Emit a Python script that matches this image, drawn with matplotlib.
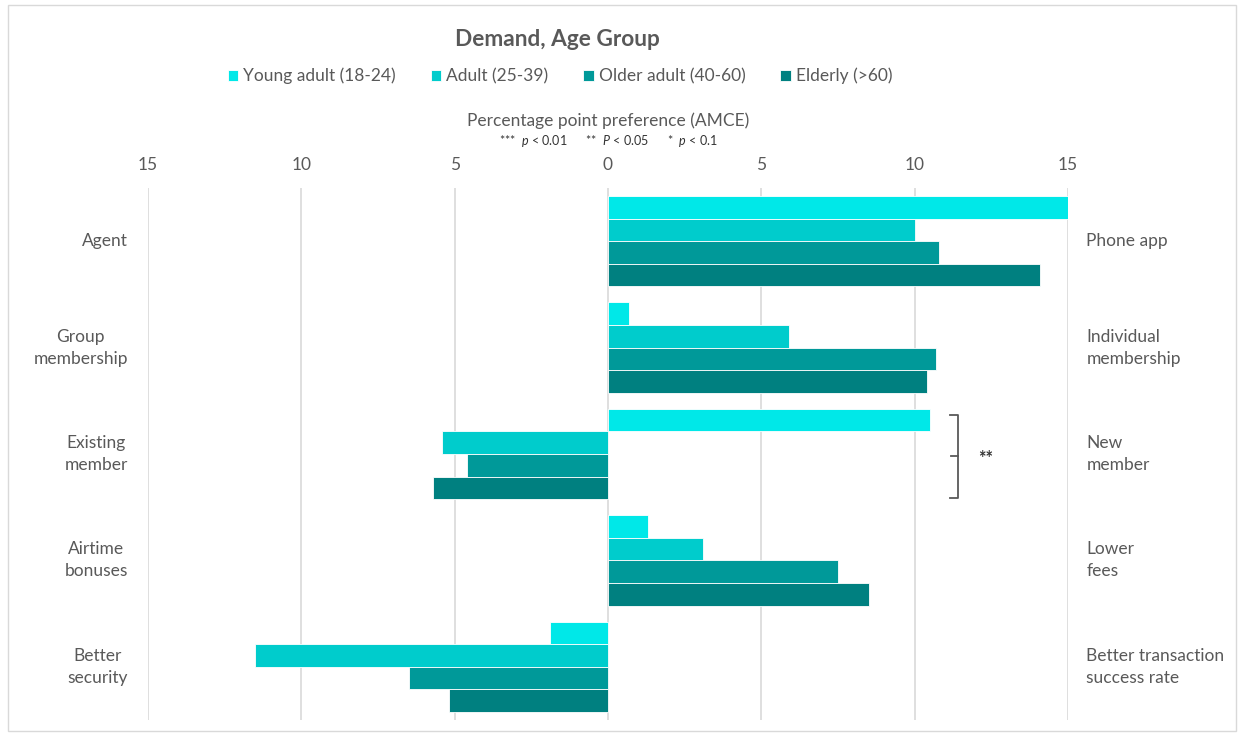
import numpy as np
import matplotlib.pyplot as plt
from matplotlib.ticker import FuncFormatter
from matplotlib.patches import Rectangle

plt.rcParams['font.family'] = ['Lato', 'DejaVu Sans']
plt.rcParams['mathtext.fontset'] = 'custom'
plt.rcParams['mathtext.it'] = 'Lato:italic'
plt.rcParams['mathtext.rm'] = 'Lato'

# Data
left_labels = ['Agent', 'Group\nmembership', 'Existing\nmember', 'Airtime\nbonuses', 'Better\nsecurity']
right_labels = ['Phone app', 'Individual\nmembership', 'New\nmember', 'Lower\nfees', 'Better transaction\nsuccess rate']
series_names = ['Young adult (18-24)', 'Adult (25-39)', 'Older adult (40-60)', 'Elderly (>60)']
young = [15.0, 0.7, 10.5, 1.3, -1.9]
adult = [10.0, 5.9, -5.4, 3.1, -11.5]
older = [10.8, 10.7, -4.6, 7.5, -6.5]
elderly = [14.1, 10.4, -5.7, 8.5, -5.2]
colors = ['#00E8E8', '#00CCCC', '#009999', '#008080']

text_col = '#595959'

fig = plt.figure(figsize=(12.38, 7.38), dpi=100)
ax = fig.add_axes([148 / 1238, 1 - 720 / 738, 920 / 1238, 532 / 738])

y = np.arange(len(left_labels))
h = 0.85 / 4
for i, vals in enumerate([young, adult, older, elderly]):
    ax.barh(y - 0.425 + h * (i + 0.5), vals, height=h, color=colors[i],
            edgecolor='white', linewidth=0.6, label=series_names[i], zorder=3)

ax.set_xlim(-15, 15)
ax.set_ylim(4.5, -0.5)
ax.set_xticks(np.arange(-15, 16, 5))
ax.xaxis.set_major_formatter(FuncFormatter(lambda v, p: f'{abs(v):.0f}'))
ax.xaxis.tick_top()
ax.tick_params(axis='x', length=0, pad=11, labelsize=12.5, labelcolor=text_col)
ax.set_yticks([])
ax.grid(axis='x', color='#D9D9D9', linewidth=1.2, zorder=0)
for s in ax.spines.values():
    s.set_visible(False)

# category labels
for yi, (l, r) in enumerate(zip(left_labels, right_labels)):
    ax.text(-15.65, yi, l, ha='right', va='center', multialignment='center',
            fontsize=12.5, color=text_col, linespacing=1.45)
    ax.text(15.6, yi, r, ha='left', va='center', multialignment='left',
            fontsize=12.5, color=text_col, linespacing=1.45)

# significance bracket
bx = 11.15
ax.plot([bx, bx + 0.26, bx + 0.26, bx], [1.63, 1.63, 2.41, 2.41], color=text_col, lw=1.3, clip_on=False)
ax.plot([bx + 0.26, bx + 0.05], [2.02, 2.02], color=text_col, lw=1.3, clip_on=False)
ax.text(12.3, 2.04, '**', ha='center', va='center', fontsize=13, fontweight='bold', color='#333333')

# titles
fig.text(557 / 1238, 1 - 40 / 738, 'Demand, Age Group', ha='center', va='center',
         fontsize=16.3, fontweight='bold', color=text_col)
fig.text(608 / 1238, 1 - 121 / 738, 'Percentage point preference (AMCE)', ha='center', va='center',
         fontsize=12.5, color=text_col)
fig.text(608 / 1238, 1 - 141 / 738,
         r'***  $\it{p}$ < 0.01      **  $\it{P}$ < 0.05      *  $\it{p}$ < 0.1',
         ha='center', va='center', fontsize=9, color='#333333')

handles, labels = ax.get_legend_handles_labels()
fig.legend(handles, labels, loc='center', bbox_to_anchor=(560 / 1238, 1 - 76 / 738), ncol=4,
           frameon=False, fontsize=12.5, handlelength=0.6, handleheight=0.6, handletextpad=0.3,
           columnspacing=2.0, labelcolor=text_col)

fig.patches.append(Rectangle((8 / 1238, 1 - 731 / 738), 1228 / 1238, 726 / 738,
                             transform=fig.transFigure, fill=False, edgecolor='#D9D9D9', lw=1))

fig.savefig('out.png', dpi=100, facecolor='white')
